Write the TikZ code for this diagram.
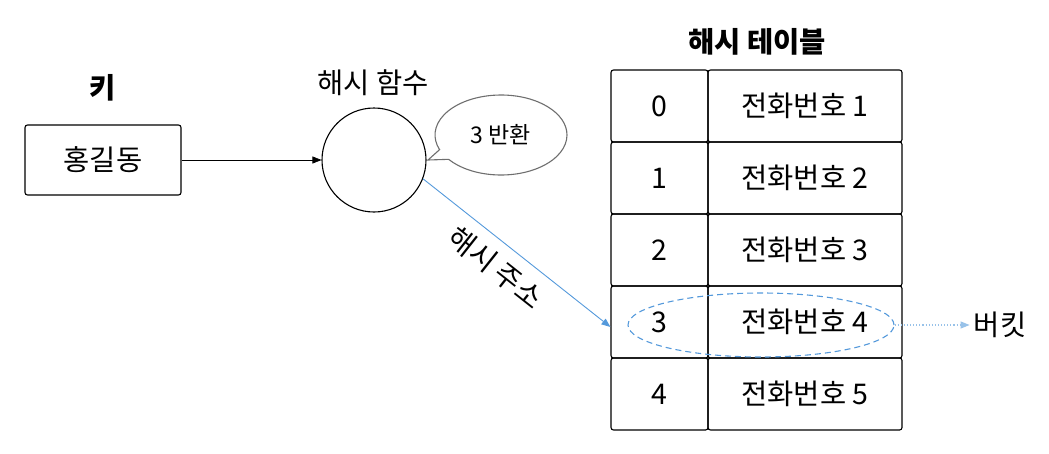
\documentclass[tikz,border=0pt]{standalone}
\usepackage{fontspec}
\newfontfamily\kr{Noto Sans CJK KR}
\usetikzlibrary{arrows.meta,shapes.geometric,shapes.callouts}
\definecolor{hblue}{RGB}{84,153,219}
\definecolor{bubgray}{RGB}{110,110,110}
\begin{document}
\begin{tikzpicture}[x=1pt,y=-1pt,
  txt/.style={font=\kr\fontsize{28.5}{32}\selectfont, inner sep=2pt},
  cellbox/.style={draw, line width=1.1pt, rounded corners=2.5pt, minimum height=72pt, font=\kr\fontsize{28.5}{32}\selectfont, inner sep=0pt},
  idxbox/.style={cellbox, minimum width=97pt},
  valbox/.style={cellbox, minimum width=194pt},
  tip/.style={-{Triangle[length=9pt,width=7pt]}}]
\useasboundingbox (0,0) rectangle (1049,453);
\node[txt, font=\kr\bfseries\fontsize{28.5}{32}\selectfont] (keylbl) at (103,88) {키};
\node[draw, line width=1.1pt, rounded corners=2.5pt, minimum width=156pt, minimum height=70pt, txt] (key) at (103,160) {홍길동};
\node[txt] (hflbl) at (373,83) {해시 함수};
\node[draw, circle, line width=1.1pt, minimum size=104pt, inner sep=0pt] (hf) at (374,160) {};
\draw[line width=0.6pt, tip] (key.east) -- (hf.west);
\node[draw=bubgray, line width=1.1pt, ellipse callout, minimum width=132pt, minimum height=80pt,
  callout absolute pointer={(428,160)}, callout pointer arc=16, inner sep=0pt,
  font=\kr\fontsize{23}{27}\selectfont] (bub) at (501,135) {3 반환};
\node[txt, font=\kr\bfseries\fontsize{28.5}{32}\selectfont] (tbllbl) at (757,42) {해시 테이블};
\foreach \i/\v in {0/1,1/2,2/3,3/4,4/5}{
  \node[idxbox] (c\i) at (659.5,{106+72*\i}) {\i};
  \node[valbox] (v\i) at (805,{106+72*\i}) {전화번호 \v};
}
\draw[hblue, line width=0.9pt, tip] (hf.-21) -- node[sloped, below, pos=0.47, font=\kr\fontsize{28.5}{32}\selectfont, inner sep=11pt, text=black] {해시 주소} ([yshift=-5pt]c3.west);
\node[draw=hblue, dashed, dash pattern=on 6pt off 4pt, line width=1.1pt, ellipse, minimum width=266pt, minimum height=64pt, inner sep=0pt] (bucket) at (761,325) {};
\node[txt] (bk) at (1000,325) {버킷};
\draw[hblue!60, dotted, line width=1.1pt, -{Triangle[length=9pt,width=7pt]}] (bucket.east) -- ([xshift=-2pt]bk.west);
\end{tikzpicture}
\end{document}
